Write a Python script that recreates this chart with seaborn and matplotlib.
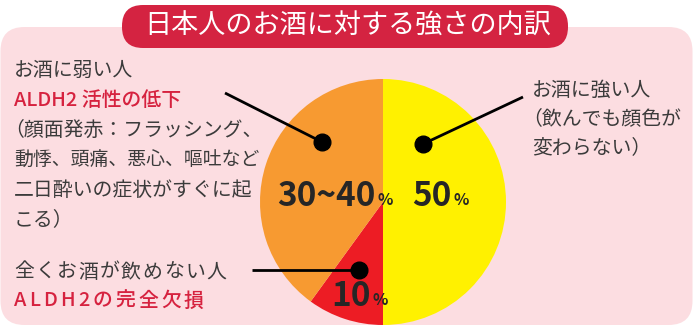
import matplotlib
matplotlib.use("Agg")
import matplotlib.pyplot as plt
import seaborn as sns
from matplotlib.patches import FancyBboxPatch

sns.set_theme(style="white")
plt.rcParams['font.family'] = ['Noto Sans CJK JP', 'DejaVu Sans']

# ---- data ----
title = "日本人のお酒に対する強さの内訳"
categories = ["お酒に強い人", "全くお酒が飲めない人", "お酒に弱い人"]
values = [50, 10, 40]
pct_labels = ["50", "10", "30~40"]
slice_colors = ["#fff100", "#ed1c24", "#f79a31"]
left_lines = ["お酒に弱い人", "ALDH2 活性の低下", "（顔面発赤：フラッシング、",
              "動悸、頭痛、悪心、嘔吐など", "二日酔いの症状がすぐに起", "こる）"]
right_lines = ["お酒に強い人", "（飲んでも顔色が", "変わらない）"]
bottom_lines = ["全くお酒が飲めない人", "ALDH2の完全欠損"]

PINK = "#fcdde1"
BANNER = "#d42341"
RED_TXT = "#d6223f"
GRAY = "#3b3b3b"
DARK = "#262626"

W, H = 693, 327
fig = plt.figure(figsize=(W / 100, H / 100), dpi=100)
ax = fig.add_axes([0, 0, 1, 1])

# background
ax.add_patch(FancyBboxPatch((0.5, 27), W - 1, 298, boxstyle="round,pad=0,rounding_size=24",
                            fc=PINK, ec="none", zorder=0))
ax.add_patch(FancyBboxPatch((122, 5), 446, 43, boxstyle="round,pad=0,rounding_size=21",
                            fc=BANNER, ec="none", zorder=1))
ax.text(348, 26.5, title, color="white", fontsize=19.5, ha="center", va="center", zorder=2)

# pie (y axis inverted -> counterclock in data == clockwise on screen)
cx, cy, r = 383, 202, 123
wedges, _ = ax.pie(values, colors=sns.color_palette(slice_colors), startangle=-90,
                   counterclock=True, center=(cx, cy), radius=r,
                   wedgeprops=dict(linewidth=0), frame=True)
ax.set_xlim(0, W)
ax.set_ylim(H, 0)
ax.set_aspect("auto")
ax.axis("off")

fig.canvas.draw()
rend = fig.canvas.get_renderer()
inv = ax.transData.inverted()


def width_of(t):
    bb = t.get_window_extent(rend)
    return inv.transform((bb.x1, 0))[0] - inv.transform((bb.x0, 0))[0]


# percentage labels
pct_pos = [(412, 206), (331, 306), (277, 206)]
for lab, (x, y) in zip(pct_labels, pct_pos):
    t = ax.text(x, y, lab, fontsize=24, fontweight="bold", color=DARK,
                ha="left", va="baseline", zorder=5)
    ax.text(x + width_of(t) + 2, y - 1, "%", fontsize=11.5, fontweight="bold", color=DARK,
            ha="left", va="baseline", zorder=5)

# leader lines + dots
leaders = [((225, 93), (322, 142)), ((523, 97), (423, 144)), ((252, 270), (359, 270))]
for (x0, y0), (x1, y1) in leaders:
    ax.plot([x0, x1], [y0, y1], color="black", lw=2, zorder=6, solid_capstyle="butt")
    ax.plot([x1], [y1], "o", color="black", ms=12, zorder=7)

# text blocks
FS = 14.3


def put(x, y, line, color, weight="normal", fs=FS):
    em = fs * 100 / 72
    if line.startswith("（"):  # full-width bracket has blank left half
        x -= em * 0.5
    ax.text(x, y, line, fontsize=fs, color=color, fontweight=weight,
            ha="left", va="center", zorder=5)


def put_tracked(x, y, line, color, weight="normal", track=0.0, fs=FS):
    for ch in line:
        t = ax.text(x, y, ch, fontsize=fs, color=color, fontweight=weight,
                    ha="left", va="center", zorder=5)
        x += width_of(t) + track


left_sizes = [FS, FS, FS, 13.6, FS, FS]
for i, line in enumerate(left_lines):
    red = i == 1
    put(14, 70 + i * 30, line, RED_TXT if red else GRAY,
        "medium" if red else "normal", fs=left_sizes[i])
for i, line in enumerate(right_lines):
    put(532, 90 + i * 29, line, GRAY)
put_tracked(14, 272, bottom_lines[0], GRAY, track=1.5)
put_tracked(14, 301, bottom_lines[1], RED_TXT, "medium", track=3.0)

fig.savefig("out.png", dpi=100, facecolor="white")
